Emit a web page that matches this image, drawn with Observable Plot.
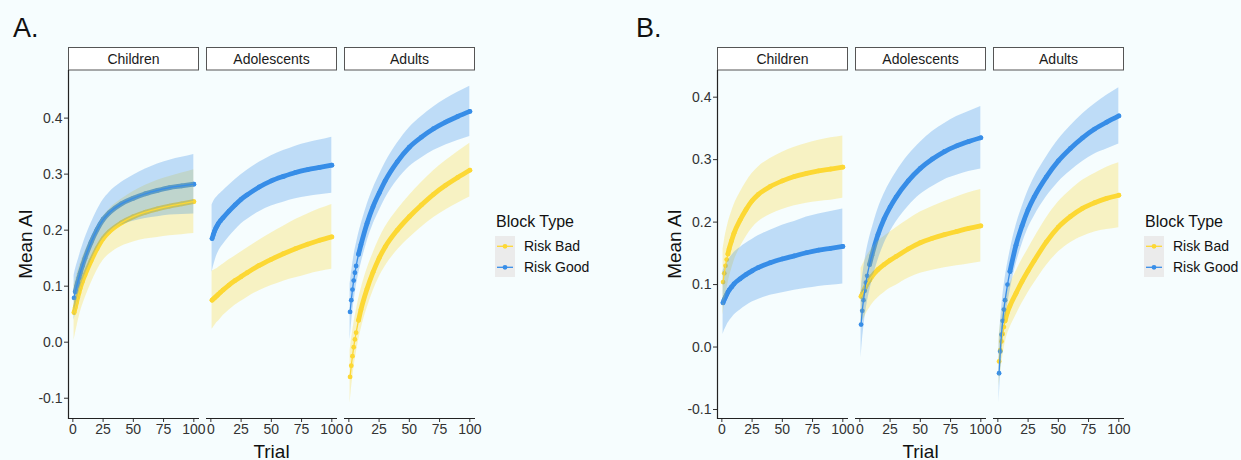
<!DOCTYPE html>
<html><head><meta charset="utf-8">
<script src="https://cdn.jsdelivr.net/npm/d3@7"></script>
<script src="https://cdn.jsdelivr.net/npm/@observablehq/plot@0.6"></script>
<style>
html,body{margin:0;padding:0;background:#fff;}
#wrap{position:relative;width:1241px;height:460px;background:#f6fdfe;overflow:hidden;}
#wrap svg{position:absolute;top:0;}
</style></head><body><div id="wrap"></div>
<script>
const FONT = '"Liberation Sans", Arial, Helvetica, sans-serif';
const groups = ["Children", "Adolescents", "Adults"];
const blockTypes = ["Risk Bad", "Risk Good"];
const colors = ["#FDD835", "#388EE8"];
const xTicks = [0, 25, 50, 75, 100];
const yTicks = [-0.1, 0, 0.1, 0.2, 0.3, 0.4];
const trials = [1,2,3,4,5,6,8,10,15,20,25,30,40,50,60,70,80,90,100];

// Panel A
const A_children_bad_mean = [0.053,0.062,0.071,0.080,0.088,0.096,0.109,0.120,0.145,0.167,0.185,0.197,0.213,0.224,0.232,0.238,0.243,0.247,0.251];
const A_children_bad_hw   = [0.050,0.048,0.047,0.046,0.045,0.044,0.043,0.042,0.040,0.039,0.039,0.040,0.042,0.045,0.048,0.051,0.053,0.055,0.057];
const A_children_good_mean= [0.079,0.090,0.099,0.107,0.115,0.123,0.137,0.150,0.178,0.201,0.219,0.231,0.247,0.257,0.265,0.271,0.276,0.279,0.282];
const A_children_good_hw  = [0.040,0.039,0.038,0.037,0.036,0.036,0.035,0.035,0.034,0.034,0.035,0.036,0.038,0.041,0.044,0.047,0.049,0.051,0.053];
const A_adolescents_bad_mean = [0.075,0.077,0.079,0.081,0.083,0.085,0.089,0.093,0.102,0.110,0.117,0.124,0.137,0.148,0.158,0.167,0.175,0.182,0.188];
const A_adolescents_bad_hw   = [0.052,0.051,0.050,0.049,0.048,0.048,0.047,0.046,0.045,0.044,0.044,0.044,0.045,0.047,0.049,0.052,0.054,0.056,0.058];
const A_adolescents_good_mean= [0.185,0.192,0.198,0.203,0.207,0.211,0.217,0.222,0.234,0.245,0.255,0.263,0.277,0.288,0.296,0.303,0.308,0.312,0.316];
const A_adolescents_good_hw  = [0.060,0.058,0.056,0.054,0.052,0.051,0.049,0.048,0.046,0.045,0.044,0.044,0.044,0.045,0.046,0.047,0.048,0.049,0.050];
const A_adults_bad_mean = [-0.062,-0.042,-0.025,-0.009,0.005,0.017,0.039,0.058,0.095,0.125,0.150,0.170,0.200,0.224,0.245,0.264,0.280,0.294,0.307];
const A_adults_bad_hw   = [0.047,0.044,0.042,0.040,0.039,0.038,0.037,0.036,0.035,0.034,0.034,0.035,0.036,0.038,0.040,0.042,0.044,0.046,0.048];
const A_adults_good_mean= [0.054,0.075,0.094,0.110,0.124,0.136,0.157,0.174,0.212,0.242,0.266,0.288,0.322,0.348,0.366,0.381,0.393,0.403,0.412];
const A_adults_good_hw  = [0.050,0.046,0.043,0.041,0.040,0.038,0.036,0.035,0.033,0.032,0.032,0.032,0.033,0.035,0.037,0.039,0.041,0.043,0.045];

// Panel B
const B_children_bad_mean = [0.104,0.118,0.130,0.140,0.149,0.157,0.170,0.182,0.203,0.220,0.234,0.244,0.257,0.266,0.273,0.278,0.282,0.285,0.288];
const B_children_bad_hw   = [0.053,0.051,0.050,0.049,0.048,0.047,0.046,0.045,0.044,0.044,0.044,0.044,0.045,0.046,0.047,0.048,0.049,0.050,0.050];
const B_children_good_mean= [0.071,0.076,0.080,0.084,0.088,0.091,0.096,0.101,0.109,0.116,0.122,0.127,0.135,0.141,0.146,0.151,0.155,0.158,0.161];
const B_children_good_hw  = [0.051,0.050,0.050,0.050,0.050,0.050,0.050,0.050,0.050,0.050,0.050,0.051,0.052,0.054,0.055,0.057,0.058,0.059,0.060];
const B_adolescents_bad_mean = [0.081,0.085,0.089,0.093,0.097,0.101,0.107,0.113,0.124,0.132,0.139,0.145,0.157,0.167,0.174,0.180,0.185,0.190,0.194];
const B_adolescents_bad_hw   = [0.045,0.045,0.045,0.045,0.045,0.045,0.045,0.045,0.045,0.045,0.045,0.046,0.047,0.049,0.051,0.053,0.055,0.057,0.058];
const B_adolescents_good_mean= [0.036,0.058,0.075,0.090,0.103,0.114,0.132,0.147,0.180,0.205,0.224,0.240,0.266,0.286,0.301,0.313,0.322,0.329,0.335];
const B_adolescents_good_hw  = [0.053,0.050,0.048,0.046,0.045,0.044,0.043,0.042,0.041,0.040,0.040,0.040,0.041,0.042,0.044,0.045,0.047,0.048,0.050];
const B_adults_bad_mean = [-0.023,-0.005,0.009,0.021,0.032,0.042,0.056,0.066,0.086,0.105,0.122,0.138,0.168,0.192,0.209,0.222,0.231,0.238,0.243];
const B_adults_bad_hw   = [0.040,0.039,0.038,0.037,0.036,0.036,0.035,0.035,0.035,0.035,0.035,0.036,0.038,0.040,0.042,0.045,0.047,0.050,0.052];
const B_adults_good_mean= [-0.042,-0.007,0.020,0.042,0.060,0.075,0.100,0.121,0.163,0.194,0.220,0.240,0.272,0.298,0.318,0.335,0.349,0.360,0.370];
const B_adults_good_hw  = [0.047,0.043,0.040,0.038,0.036,0.035,0.033,0.032,0.031,0.030,0.030,0.031,0.032,0.034,0.036,0.038,0.040,0.043,0.045];

const PLOT_H = 460, MT = 70, MB = 42;

// rows per series; "dense" marks trials where the per-trial dots overlap into a solid stroke
function rowsFor(spec, yDomain) {
  const pxPerUnit = (PLOT_H - MT - MB) / (yDomain[1] - yDomain[0]);
  const rows = [];
  for (const [group, type, mean, hw] of spec) {
    let denseFrom = trials[trials.length - 1];
    for (let i = 0; i < trials.length - 1; i++) {
      const slopePx = Math.abs(mean[i + 1] - mean[i]) / (trials[i + 1] - trials[i]) * pxPerUnit;
      if (slopePx < 5.5) { denseFrom = trials[i]; break; }
    }
    trials.forEach((t, i) => rows.push({group, type, trial: t, mean: mean[i], lo: mean[i] - hw[i], hi: mean[i] + hw[i], dense: t >= denseFrom}));
  }
  return rows;
}
const yDomainA = [-0.1362, 0.485];
const yDomainB = [-0.1144, 0.4427];
const rowsA = rowsFor([
  ["Children","Risk Bad",A_children_bad_mean,A_children_bad_hw],
  ["Children","Risk Good",A_children_good_mean,A_children_good_hw],
  ["Adolescents","Risk Bad",A_adolescents_bad_mean,A_adolescents_bad_hw],
  ["Adolescents","Risk Good",A_adolescents_good_mean,A_adolescents_good_hw],
  ["Adults","Risk Bad",A_adults_bad_mean,A_adults_bad_hw],
  ["Adults","Risk Good",A_adults_good_mean,A_adults_good_hw]
], yDomainA);
const rowsB = rowsFor([
  ["Children","Risk Bad",B_children_bad_mean,B_children_bad_hw],
  ["Children","Risk Good",B_children_good_mean,B_children_good_hw],
  ["Adolescents","Risk Bad",B_adolescents_bad_mean,B_adolescents_bad_hw],
  ["Adolescents","Risk Good",B_adolescents_good_mean,B_adolescents_good_hw],
  ["Adults","Risk Bad",B_adults_bad_mean,B_adults_bad_hw],
  ["Adults","Risk Good",B_adults_good_mean,B_adults_good_hw]
], yDomainB);

function txt(svg, x, y, s, size, anchor, fill) {
  return svg.append("text").attr("x", x).attr("y", y).attr("text-anchor", anchor || "start")
    .attr("font-family", FONT).attr("font-size", size).attr("fill", fill || "#111").text(s);
}

function makePanel({rows, left, width, marginLeft, marginRight, yDomain, tag, tagX}) {
  const chart = Plot.plot({
    width, height: PLOT_H, marginLeft, marginRight, marginTop: MT, marginBottom: MB,
    style: {background: "none", fontFamily: FONT, color: "#333", overflow: "visible"},
    fx: {domain: groups, paddingInner: 7/138, paddingOuter: 0, axis: null, label: null},
    x: {domain: [-3.6, 104.7]},
    y: {domain: yDomain},
    color: {domain: blockTypes, range: colors},
    marks: [
      Plot.line(rows.filter(d => d.dense), {fx: "group", x: "trial", y: "mean", stroke: "type", strokeWidth: 4.8, curve: "monotone-x"}),
      Plot.dot(rows, {fx: "group", x: "trial", y: "mean", fill: "type", r: 2.4}),
      Plot.areaY(rows, {fx: "group", x: "trial", y1: "lo", y2: "hi", fill: "type", fillOpacity: 0.29, curve: "monotone-x"}),
      Plot.line(rows, {fx: "group", x: "trial", y: "mean", stroke: "type", strokeWidth: 1.3, curve: "monotone-x"}),
      Plot.axisX({ticks: xTicks, tickSize: 4, tickPadding: 2, fontSize: 14, label: null, tickFormat: d => String(d)}),
      Plot.axisY({ticks: yTicks, tickSize: 4, tickPadding: 2, fontSize: 14, label: null, tickFormat: d => d.toFixed(1)})
    ]
  });
  chart.style.left = left + "px";
  const svg = d3.select(chart);
  const fx = chart.scale("fx");
  const cs = chart.scale("color");
  const bw = fx.bandwidth;
  const yTop = MT, yBot = PLOT_H - MB;
  const firstX = fx.apply(groups[0]);
  const lastX = fx.apply(groups[groups.length - 1]) + bw;
  groups.forEach(g => {
    const x0 = fx.apply(g);
    svg.append("rect").attr("x", x0 + 0.5).attr("y", 47.5).attr("width", bw - 1).attr("height", 22.5)
      .attr("fill", "#fff").attr("stroke", "#555").attr("stroke-width", 1);
    txt(svg, x0 + bw / 2, 63.5, g, 14, "middle", "#1a1a1a");
    svg.append("line").attr("x1", x0).attr("x2", x0 + bw).attr("y1", yBot + 0.5).attr("y2", yBot + 0.5)
      .attr("stroke", "#222").attr("stroke-width", 1.2);
  });
  svg.append("line").attr("x1", firstX + 0.5).attr("x2", firstX + 0.5).attr("y1", yTop).attr("y2", yBot + 1)
    .attr("stroke", "#222").attr("stroke-width", 1.2);
  txt(svg, (firstX + lastX) / 2, 457.5, "Trial", 19, "middle");
  svg.append("text").attr("transform", `translate(${firstX - 36.5},${(yTop + yBot) / 2}) rotate(-90)`)
    .attr("text-anchor", "middle").attr("font-family", FONT).attr("font-size", 19).attr("fill", "#111").text("Mean AI");
  txt(svg, tagX, 37, tag, 27, "start");
  // legend
  const lx = firstX + 427;
  txt(svg, lx + 1, 227, "Block Type", 16, "start");
  svg.append("rect").attr("x", lx).attr("y", 236).attr("width", 20).attr("height", 41).attr("fill", "#ebebeb");
  blockTypes.forEach((t, i) => {
    const cy = 246.3 + i * 21;
    const c = cs.apply(t);
    svg.append("line").attr("x1", lx + 2).attr("x2", lx + 18).attr("y1", cy).attr("y2", cy)
      .attr("stroke", c).attr("stroke-width", 1.3);
    svg.append("circle").attr("cx", lx + 10).attr("cy", cy).attr("r", 2.4).attr("fill", c);
    txt(svg, lx + 29, cy + 5, t, 14, "start");
  });
  document.getElementById("wrap").appendChild(chart);
}

makePanel({rows: rowsA, left: 0, width: 620, marginLeft: 68, marginRight: 145, yDomain: yDomainA, tag: "A.", tagX: 13});
makePanel({rows: rowsB, left: 620, width: 621, marginLeft: 96.7, marginRight: 116.7, yDomain: yDomainB, tag: "B.", tagX: 16});
</script></body></html>
